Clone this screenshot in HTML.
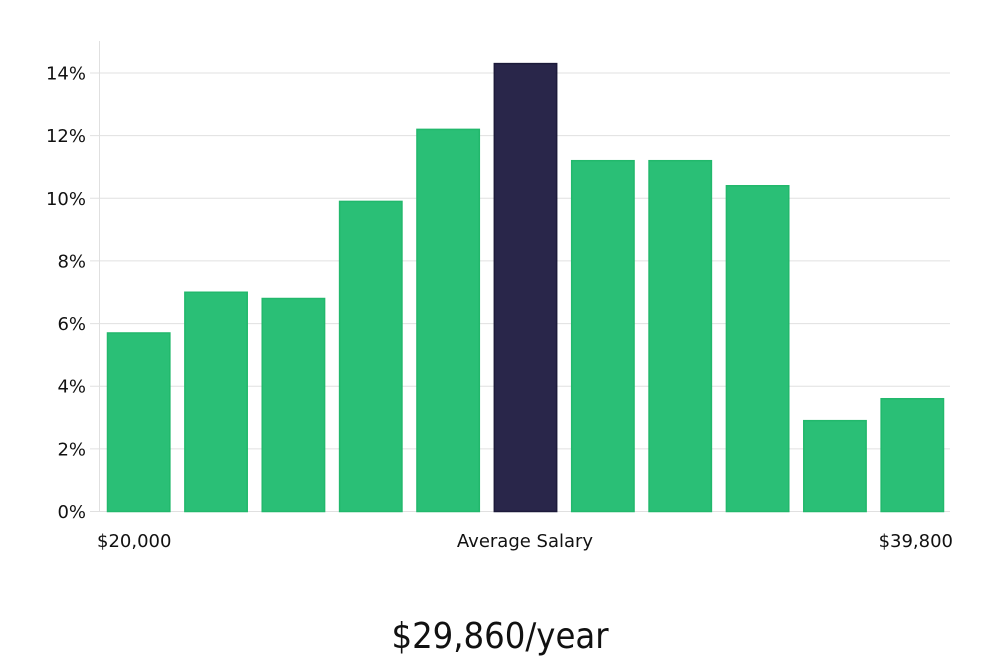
<!DOCTYPE html>
<html><head><meta charset="utf-8"><style>
html,body{margin:0;padding:0;background:#fff;}
svg text{font-family:"DejaVu Sans","Liberation Sans",sans-serif;}
</style></head><body>
<svg id="chart" width="1000" height="660" xmlns="http://www.w3.org/2000/svg">
<g id="grid"></g>
<line x1="99.5" y1="41" x2="99.5" y2="512" stroke="#e0e0e0"/>
<g id="yticks"></g>
<g id="bars"></g>
<text x="97" y="547" font-size="18" fill="#111">$20,000</text>
<text x="525" y="547" font-size="18" fill="#111" text-anchor="middle">Average Salary</text>
<text x="953" y="547" font-size="18" fill="#111" text-anchor="end">$39,800</text>
<text x="500" y="648" font-size="36" fill="#111" text-anchor="middle" style="font-family:'Liberation Sans Narrow','DejaVu Sans Condensed','Liberation Sans',sans-serif">$29,860/year</text>
</svg>
<script>
const values = [5.7, 7.0, 6.8, 9.9, 12.2, 14.3, 11.2, 11.2, 10.4, 2.9, 3.6];
const highlight = [0,0,0,0,0,1,0,0,0,0,0];
const yTicks = [0, 2, 4, 6, 8, 10, 12, 14];
const NS = "http://www.w3.org/2000/svg";
const x0 = 99, x1 = 950, y0 = 511.5, yTop = 73, yMaxV = 14;
const y = v => y0 - (v / yMaxV) * (y0 - yTop);
const band = (x1 - x0) / values.length;
const grid = document.getElementById('grid'), yt = document.getElementById('yticks'), bars = document.getElementById('bars');
yTicks.forEach(t => {
  const l = document.createElementNS(NS, 'line');
  
  
  l.setAttribute('x1', 90); l.setAttribute('x2', x1);
  l.setAttribute('y1', y(t)); l.setAttribute('y2', y(t));
  l.setAttribute('stroke', '#e0e0e0');
  grid.appendChild(l);
  const tx = document.createElementNS(NS, 'text');
  
  
  tx.setAttribute('x', 86); tx.setAttribute('y', y(t) + 6.5);
  tx.setAttribute('text-anchor', 'end'); tx.setAttribute('font-size', '18'); tx.setAttribute('fill', '#111');
  tx.textContent = t + '%';
  yt.appendChild(tx);
});
values.forEach((v, i) => {
  const r = document.createElementNS(NS, 'rect');
  
  
  const bx = x0 + i * band + 8.5, bw = band - 15;
  r.setAttribute('x', bx); r.setAttribute('width', bw);
  r.setAttribute('y', y(v)); r.setAttribute('height', y0 - y(v));
  r.setAttribute('fill', highlight[i] ? '#29264a' : '#2abf76');
  r.setAttribute('stroke', highlight[i] ? '#1c1a3a' : '#22b86c');
  r.setAttribute('stroke-width', '1.5');
  bars.appendChild(r);
});
</script>
</body></html>
